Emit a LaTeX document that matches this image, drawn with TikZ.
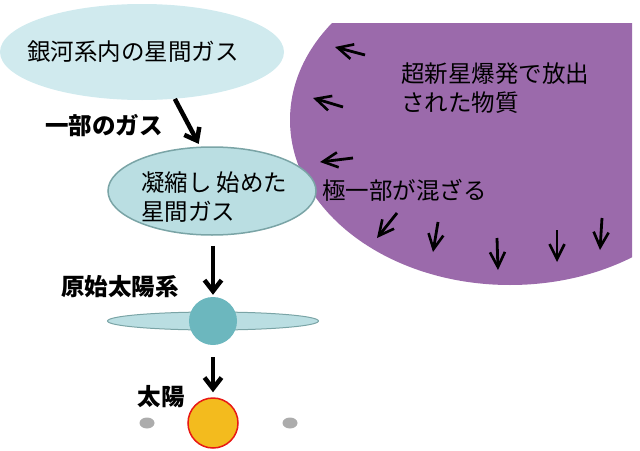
\documentclass[tikz,border=0pt]{standalone}
\usepackage{fontspec}
\setmainfont{Noto Sans CJK JP}
\usetikzlibrary{shapes.geometric}
\usetikzlibrary{arrows.meta}
\usepackage{xcolor}

\begin{document}
\begin{tikzpicture}[x=1pt, y=-1pt, inner sep=0pt]

    % style
    \tikzset{font=\fontsize{23.5}{29}\selectfont};
    \definecolor{mypale}{RGB}{208, 234, 238}
    \definecolor{mylight}{RGB}{186, 222, 226}
    \definecolor{myedge}{RGB}{122, 164, 166}
    \definecolor{mypurple}{RGB}{155, 106, 171}
    \definecolor{myteal}{RGB}{108, 183, 190}
    \definecolor{mysun}{RGB}{243, 187, 30}
    \definecolor{myred}{RGB}{232, 24, 20}
    \definecolor{mygray}{RGB}{172, 172, 172}
    \tikzset{bigarrow/.style={-{Straight Barb[length=11pt, width=17pt]}, line width=4.5pt}}
    \tikzset{smallarrow/.style={-{Straight Barb[length=15pt, width=15pt, line width=2.6pt]}, line width=2.8pt}}
    \tikzset{boldtext/.style={font=\fontsize{23.5}{29}\selectfont\bfseries}}

    % fixed frame of the figure
    \useasboundingbox (0,0) rectangle (640,450);

    % reference coordinates
    \coordinate (GasCenter) at (142,52);
    \coordinate (CondCenter) at (212,191);
    \coordinate (ProtoCenter) at (213,321);
    \coordinate (SunCenter) at (213,423);
    \coordinate (BlastCenter) at (510,120);

    % supernova material (cut at top and right)
    \begin{scope}
    \clip (0,23) rectangle (632,450);
    \fill [mypurple] (BlastCenter) ellipse (220 and 165);
    \end{scope}
    \foreach \tx/\ty/\hx/\hy in {365/55/335/47, 343/107/313/98, 353/158/320/162, 397/213/377/238, 438/222/433/252, 497/238/498/270, 557/230/557/262, 602/218/600/250}
    \draw [smallarrow] (\tx,\ty) -- (\hx,\hy);
    \node [align=left, anchor=west] (blasttext) at (401,88) {超新星爆発で放出\\された物質};
    \node [anchor=west] (mixtext) at (322,190) {極一部が混ざる};

    % interstellar gas of the galaxy
    \node [ellipse, fill=mypale, minimum width=284pt, minimum height=96pt] (gas) at (GasCenter) {};
    \node (gastext) at (133,52) {銀河系内の星間ガス};
    \node [boldtext] (parttext) at (104,126) {一部のガス};

    % gas that starts to condense
    \node [ellipse, fill=mylight, draw=myedge, line width=1.5pt, minimum width=208pt, minimum height=88pt] (cond) at (CondCenter) {};
    \node [align=left, anchor=west] (condtext) at (141,197) {凝縮し 始めた\\星間ガス};
    \draw [bigarrow, shorten >=3pt] (gas.305) -- (cond.105);

    % proto solar system
    \node [ellipse, fill=mylight, draw=myedge, line width=1pt, minimum width=211pt, minimum height=18pt] (disk) at (ProtoCenter) {};
    \node [circle, fill=myteal, minimum size=48pt] (proto) at (ProtoCenter) {};
    \node [boldtext] (prototext) at (120,287) {原始太陽系};
    \draw [bigarrow, shorten <=10pt, shorten >=2pt] (cond.south -| proto.north) -- (proto.north);

    % sun
    \node [circle, fill=mysun, draw=myred, line width=1.5pt, minimum size=50pt] (sun) at (SunCenter) {};
    \node [ellipse, fill=mygray, minimum width=15pt, minimum height=11pt] (dotL) at (147,423) {};
    \node [ellipse, fill=mygray, minimum width=15pt, minimum height=11pt] (dotR) at (290,423) {};
    \node [boldtext] (suntext) at (161,397) {太陽};
    \draw [bigarrow, shorten <=12pt, shorten >=5pt] (proto.south) -- (sun.north);

\end{tikzpicture}
\end{document}
